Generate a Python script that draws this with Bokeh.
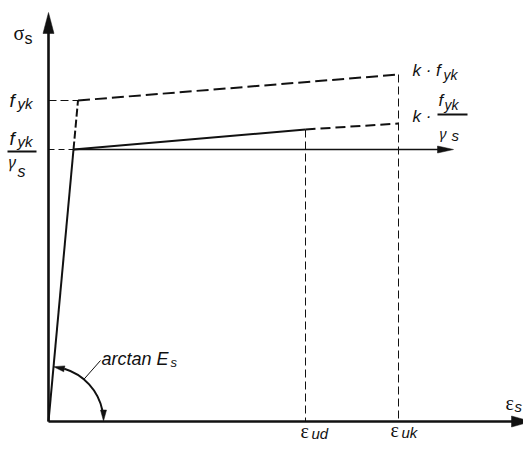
import math
from bokeh.plotting import figure
from bokeh.models import Range1d
from bokeh.core.properties import value
from bokeh.embed import file_html
from bokeh.resources import INLINE

# ---- data (drawing units: strain to the right, stress upward) ----
eps_yd = 25.0      # yield strain for f_yk / gamma_s
eps_yk = 29.5      # yield strain for f_yk
eps_ud = 257.0     # design ultimate strain
eps_uk = 350.0     # characteristic ultimate strain
eps_end = 483.0    # end of strain axis
f_yd = 272.0       # f_yk / gamma_s
f_yk = 321.0       # f_yk
f_ud = 292.0       # design branch stress at eps_ud
k_f_yd = 298.0     # k * f_yk / gamma_s
k_f_yk = 347.0     # k * f_yk
sig_end = 409.0    # end of stress axis
fyd_end = 405.0    # end of the f_yk/gamma_s reference arrow

INK = "#111111"
TDY = 5  # text baseline correction

p = figure(width=523, height=443, x_range=Range1d(-48, 475), y_range=Range1d(-22, 421),
           output_backend="svg", toolbar_location=None, x_axis_type=None, y_axis_type=None,
           min_border=0, min_border_left=0, min_border_right=0, min_border_top=0, min_border_bottom=0)
p.outline_line_color = None
p.grid.visible = False
p.background_fill_color = "white"
p.border_fill_color = "white"


def head(tx, ty, dx, dy, length, width):
    n = math.hypot(dx, dy)
    ux, uy = dx / n, dy / n
    bx, by = tx - ux * length, ty - uy * length
    px, py = -uy * width / 2, ux * width / 2
    return [tx, bx + px, bx - px], [ty, by + py, by - py]


heads_x, heads_y = [], []

# axes
p.line([0, 0], [0, sig_end - 15], line_width=2.6, line_color=INK)
hx, hy = head(0, sig_end, 0, 1, 21, 11); heads_x.append(hx); heads_y.append(hy)
p.line([0, eps_end - 15], [0, 0], line_width=2.6, line_color=INK)
hx, hy = head(eps_end, 0, 1, 0, 20, 11); heads_x.append(hx); heads_y.append(hy)

# f_yd reference line (dashed to elastic branch, then solid arrow)
p.line([0, eps_yd], [f_yd, f_yd], line_width=1.2, line_color=INK, line_dash="6 4")
p.line([eps_yd, fyd_end - 10], [f_yd, f_yd], line_width=1.5, line_color=INK)
hx, hy = head(fyd_end, f_yd, 1, 0, 16, 7); heads_x.append(hx); heads_y.append(hy)

# f_yk dashed level
p.line([0, eps_yk], [f_yk, f_yk], line_width=1.2, line_color=INK, line_dash="8 4")

# elastic branch
p.line([0, eps_yd], [0, f_yd], line_width=2, line_color=INK)
p.line([eps_yd, eps_yk], [f_yd, f_yk], line_width=2, line_color=INK, line_dash="8 3")

# characteristic hardening branch (dashed)
p.line([eps_yk, eps_uk], [f_yk, k_f_yk], line_width=2, line_color=INK, line_dash="12 5")

# design branch (solid to eps_ud, dashed to eps_uk)
p.line([eps_yd, eps_ud], [f_yd, f_ud], line_width=2, line_color=INK)
p.line([eps_ud, eps_uk], [f_ud, k_f_yd], line_width=2, line_color=INK, line_dash="10 5")

# vertical limits
p.line([eps_ud, eps_ud], [f_ud, 0], line_width=1, line_color=INK, line_dash="8 4")
p.line([eps_uk, eps_uk], [k_f_yk, 0], line_width=1, line_color=INK, line_dash="8 4")

# angle arc with two arrowheads
R = 55.0
theta_e = math.atan2(f_yd, eps_yd)
p.arc(x=[0], y=[0], radius=R, start_angle=0.2, end_angle=theta_e - 0.2,
      line_width=2, line_color=INK)
hx, hy = head(R, 0.5, 0, -1, 11, 6); heads_x.append(hx); heads_y.append(hy)
tx, ty = R * math.cos(theta_e), R * math.sin(theta_e)
hx, hy = head(tx, ty, -math.sin(theta_e - 0.1), math.cos(theta_e - 0.1), 11, 6)
heads_x.append(hx); heads_y.append(hy)
a = math.radians(50)
p.line([R * math.cos(a), 52], [R * math.sin(a), 61], line_width=1, line_color=INK)

p.patches(heads_x, heads_y, fill_color=INK, line_color=INK, line_width=0.5)


def label(x, y, s, size, font="Liberation Sans", style="italic"):
    p.text(x=[x], y=[y + TDY], text=[s], text_font=value(font), text_font_style=style,
           text_font_size=f"{size}px", text_baseline="alphabetic", text_align="left",
           text_color=INK)


def frac_bar(x0, x1, y):
    p.line([x0, x1], [y, y], line_width=2, line_color=INK)


SERIF = "Liberation Serif"
GREEK = "Noto Sans"

# sigma_s
label(-35, sig_end - 25, "σ", 20, SERIF, "normal")
label(-24, sig_end - 31, "s", 16, "Liberation Sans", "normal")

# f_yk at left
label(-39, f_yk - 5, "f", 19)
label(-31, f_yk - 8, "yk", 15)

# f_yk / gamma_s at left
label(-39, f_yd + 6, "f", 19)
label(-31, f_yd + 3, "yk", 15)
frac_bar(-41, -12, f_yd - 2)
label(-40, f_yd - 17, "γ", 16, GREEK, "italic")
label(-31, f_yd - 27, "s", 16)

# k * f_yk at right
label(eps_uk + 14, k_f_yk - 1, "k · f", 17)
label(eps_uk + 45, k_f_yk - 5, "yk", 14)

# k * f_yk / gamma_s at right
label(eps_uk + 14, k_f_yd + 2, "k ·", 17)
label(eps_uk + 40, k_f_yd + 18, "f", 17)
label(eps_uk + 46, k_f_yd + 14, "yk", 14)
frac_bar(eps_uk + 39, eps_uk + 69, k_f_yd + 9)
label(eps_uk + 41, k_f_yd - 14, "γ", 15, GREEK, "italic")
label(eps_uk + 53, k_f_yd - 17, "s", 15)

# strain labels
label(eps_end - 26, 14, "ε", 20, SERIF, "normal")
label(eps_end - 17, 10, "s", 15)
label(eps_ud - 5, -14, "ε", 20, SERIF, "normal")
label(eps_ud + 6, -17, "ud", 15)
label(eps_uk - 8, -13, "ε", 20, SERIF, "normal")
label(eps_uk + 3, -16, "uk", 15)

# arctan E_s
label(53, 58, "arctan E", 18)
label(122, 54, "s", 13)

open("out.html", "w").write(file_html(p, INLINE))
